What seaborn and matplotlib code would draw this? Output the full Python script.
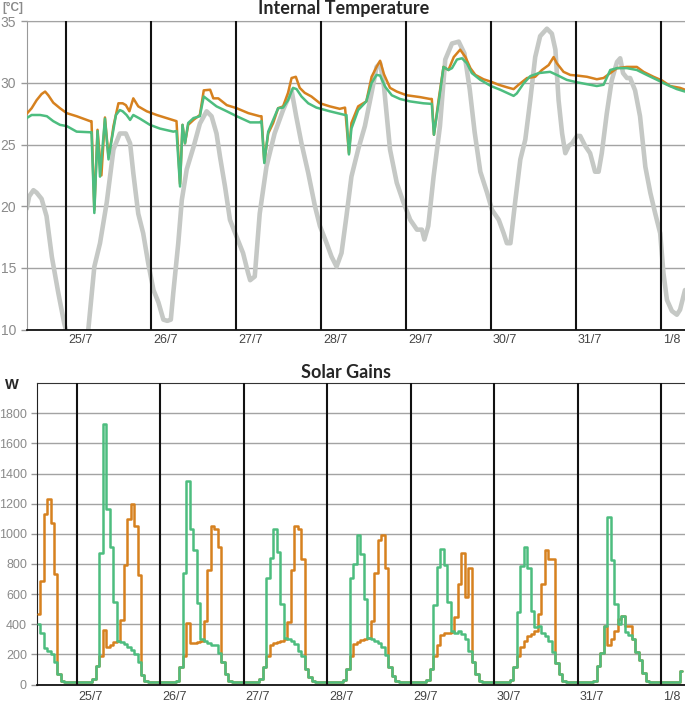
import numpy as np
import seaborn as sns
import matplotlib.pyplot as plt
from matplotlib.transforms import ScaledTranslation

# time axis in hours, counted from 25/7 00:00
day_hours = [0, 24, 48, 72, 96, 120, 144, 168]
day_labels = ['25/7', '26/7', '27/7', '28/7', '29/7', '30/7', '31/7', '1/8']

# external air temperature (grey)
ext_hours = [-11.1, -10.4, -9.2, -8.3, -6.9, -5.5, -4.0, -2.2, -0.5, 1.5, 4.0, 5.5, 6.3, 8.0, 9.6,
             11.5, 13.4, 15.2, 16.9, 18.1, 19.0, 20.4, 21.8, 23.2, 24.7, 26.1, 27.5, 28.6, 29.6, 30.3,
             31.7, 32.7, 34.1, 36.0, 37.8, 39.7, 41.1, 42.5, 43.5, 44.9, 46.3, 48.2, 50.0, 51.4, 52.0,
             53.3, 54.7, 56.6, 58.9, 61.3, 63.7, 65.0, 66.5, 68.4, 70.3, 71.7, 73.6, 75.0, 76.4, 77.8,
             79.2, 80.6, 82.5, 84.4, 86.3, 87.7, 88.7, 89.8, 91.5, 93.4, 95.3, 97.2, 99.1, 100.5, 101.2,
             102.3, 103.8, 105.6, 107.1, 109.0, 110.9, 112.5, 114.0, 115.4, 117.0, 118.9, 120.3, 122.2,
             123.6, 124.5, 125.5, 126.9, 128.3, 129.7, 131.1, 132.5, 133.9, 135.8, 137.2, 138.2, 139.1,
             140.1, 141.0, 142.0, 142.9, 144.3, 145.2, 146.6, 148.0, 149.4, 150.4, 151.3, 152.7, 154.1,
             155.6, 156.5, 157.3, 158.4, 159.3, 160.7, 162.1, 163.6, 165.0, 166.4, 167.8, 168.7, 169.7,
             171.1, 172.5, 173.4, 174.8]
ext_temp = [19.8, 20.8, 21.3, 21.1, 20.6, 19.2, 15.9, 13.0, 10.5, 8.3, 7.8, 8.5, 10.0, 15.1, 17.0,
            20.3, 24.6, 25.9, 25.9, 25.1, 22.7, 19.4, 17.8, 15.4, 13.2, 12.2, 10.8, 10.7, 10.8, 13.0,
            17.0, 20.5, 23.0, 24.8, 26.7, 27.7, 27.3, 25.9, 24.0, 21.6, 18.9, 17.5, 16.2, 14.6, 14.0,
            14.3, 19.4, 23.2, 25.9, 27.8, 29.4, 27.3, 25.1, 22.7, 20.0, 18.4, 17.0, 15.9, 15.1, 16.2,
            19.2, 22.4, 24.6, 26.5, 29.2, 31.3, 31.6, 29.7, 24.6, 21.9, 20.3, 18.9, 18.1, 18.1, 17.3,
            18.4, 22.4, 26.5, 31.9, 33.2, 33.35, 32.4, 29.5, 26.0, 22.8, 21.1, 19.7, 18.9,
            17.8, 17.0, 17.0, 20.5, 23.8, 25.4, 28.6, 32.1, 33.8, 34.4, 34.0, 32.7, 28.6,
            25.9, 24.3, 24.9, 25.1, 25.7, 25.7, 24.9, 24.3, 22.8, 22.8, 24.3, 27.5, 30.2,
            31.7, 32.0, 30.8, 30.4, 30.4, 29.4, 27.3, 23.2, 21.1, 19.4, 17.8, 14.6, 12.4,
            11.5, 11.2, 11.6, 13.2]

# internal temperature, orange case
orange_hours = [-11.1, -9.7, -8.3, -6.9, -5.9, -5.0, -3.6, -1.7, 0.2, 3.0, 6.8, 7.2, 8.0, 8.9, 10.0,
                11.0, 12.0, 12.9, 13.4, 14.8, 16.0, 16.9, 17.9, 19.0, 20.4, 22.8, 25.6, 28.4, 31.2,
                32.2, 32.9, 33.6, 34.5, 36.0, 37.8, 38.9, 40.7, 41.6, 43.0, 45.4, 48.2, 51.5, 54.7,
                55.2, 56.0, 57.1, 58.5, 59.9, 61.3, 62.7, 63.7, 64.9, 66.0, 67.4, 69.3, 71.7, 74.5,
                77.3, 78.8, 79.9, 80.6, 82.5, 84.8, 86.3, 87.7, 88.7, 89.8, 91.5, 93.4, 96.2, 100.0,
                102.8, 103.3, 103.9, 105.2, 106.6, 108.0, 109.5, 111.3, 112.8, 114.2, 115.6, 117.9,
                120.0, 122.2, 124.5, 126.4, 127.8, 130.2, 132.5, 134.4, 136.3, 137.7, 138.6, 140.5,
                142.4, 144.3, 147.1, 149.9, 151.8, 153.7, 155.6, 158.4, 161.2, 163.1, 165.9, 168.3,
                170.6, 173.4, 174.8]
orange_temp = [27.5, 27.95, 28.6, 29.1, 29.3, 29.0, 28.4, 27.95, 27.55, 27.3, 26.9, 26.9, 19.7, 26.2, 22.5,
               27.2, 24.0, 25.5, 26.5, 28.35, 28.35, 28.2, 27.7, 28.75, 28.1, 27.7, 27.4, 27.15, 26.9,
               21.8, 26.6, 25.1, 26.6, 27.0, 27.4, 29.4, 29.45, 28.75, 28.75, 28.2, 27.95, 27.55, 27.3,
               27.3, 23.6, 25.9, 26.75, 27.95, 28.1, 29.2, 30.4, 30.5, 29.6, 29.2, 28.9, 28.35, 28.1,
               27.9, 28.0, 24.3, 26.75, 28.1, 28.5, 30.5, 31.3, 31.8, 30.7, 29.6, 29.3, 29.0, 28.85,
               28.7, 28.7, 25.8, 28.6, 31.3, 31.05, 32.1, 32.7, 32.1, 31.2, 30.65, 30.3,
               30.1, 29.85, 29.65, 29.5, 29.85, 30.4, 30.5, 31.05, 31.45, 32.1, 31.6, 30.9,
               30.65, 30.6, 30.5, 30.3, 30.4, 30.8, 31.2, 31.3, 31.3, 30.9, 30.5, 30.2,
               29.75, 29.6, 29.45]

# internal temperature, green case
green_hours = [-11.1, -9.7, -7.3, -5.4, -3.6, -1.7, 0.2, 3.0, 6.8, 7.2, 8.0, 8.9, 9.6, 11.0, 12.0,
               12.9, 14.1, 15.2, 16.0, 17.1, 18.1, 19.0, 20.9, 23.7, 26.5, 30.3, 31.2, 32.2, 32.9,
               33.6, 34.5, 36.0, 37.8, 38.9, 40.7, 42.5, 45.4, 48.2, 52.0, 54.7, 55.2, 56.0, 57.1,
               58.5, 59.9, 61.3, 62.7, 64.1, 65.1, 66.5, 68.4, 70.7, 74.5, 78.8, 79.2, 79.9, 80.6,
               82.5, 84.8, 86.3, 87.7, 88.7, 90.1, 92.0, 94.3, 97.2, 100.9, 103.3, 103.9, 105.2,
               106.6, 108.0, 109.0, 110.4, 111.8, 113.2, 114.6, 117.0, 120.0, 122.6, 124.5, 126.4,
               127.3, 129.2, 131.1, 133.5, 136.7, 138.6, 141.4, 144.3, 147.1, 149.9, 151.8, 153.7,
               155.6, 158.4, 161.2, 164.0, 166.9, 169.7, 172.5, 174.8]
green_temp = [27.15, 27.4, 27.4, 27.3, 26.9, 26.6, 26.5, 26.05, 26.0, 26.0, 19.45, 26.1, 22.4, 27.1, 23.8,
              25.4, 27.4, 27.8, 27.7, 27.4, 27.0, 27.4, 27.1, 26.6, 26.3, 26.05, 26.1, 21.6, 26.6,
              25.1, 26.75, 27.15, 27.3, 28.9, 28.5, 28.1, 27.7, 27.3, 26.8, 26.8, 26.9, 23.5, 26.05,
              27.0, 27.95, 28.0, 28.6, 29.6, 29.5, 28.9, 28.35, 28.0, 27.7, 27.4, 27.4, 24.2, 26.3,
              27.8, 28.5, 30.0, 30.65, 30.6, 29.7, 29.0, 28.7, 28.5, 28.35, 28.3, 25.8, 28.35,
              31.3, 31.05, 31.2, 31.9, 32.0, 31.6, 30.8, 30.25, 29.75, 29.45, 29.2, 28.95,
              29.15, 29.95, 30.55, 30.8, 30.9, 30.65, 30.25, 30.05, 29.9, 29.75, 29.85, 31.05,
              31.2, 31.2, 31.05, 30.65, 30.25, 29.85, 29.5, 29.3]

# solar gains [W], hourly values centred on the hour, from 24/7 13h to 1/8 6h
solar_first_hour = -11
gain_green = ([400, 340, 245, 225, 200, 150, 70, 25, 15, 15, 15] +
              [15, 15, 15, 15, 15, 35, 120, 875, 1730, 1165, 915, 545, 290, 285, 270, 250, 230, 205, 150, 65, 25, 15, 15, 15] +
              [15, 15, 15, 15, 15, 25, 115, 740, 1350, 1030, 890, 540, 300, 290, 275, 265, 260, 210, 150, 70, 25, 15, 15, 15] +
              [15, 15, 15, 15, 15, 35, 115, 710, 840, 1030, 880, 535, 310, 300, 290, 270, 225, 190, 105, 50, 20, 15, 15, 15] +
              [15, 15, 15, 15, 15, 30, 105, 710, 800, 995, 865, 565, 310, 300, 290, 275, 250, 195, 115, 55, 20, 15, 15, 15] +
              [15, 15, 15, 15, 15, 30, 105, 525, 780, 900, 790, 545, 355, 345, 355, 335, 305, 225, 150, 70, 25, 15, 15, 15] +
              [15, 15, 15, 15, 15, 30, 115, 480, 785, 910, 775, 490, 380, 390, 345, 320, 290, 215, 145, 70, 20, 15, 15, 15] +
              [15, 15, 15, 15, 15, 25, 120, 210, 390, 1110, 825, 535, 400, 455, 350, 330, 300, 215, 160, 75, 20, 15, 15, 15] +
              [15, 15, 15, 15, 15, 15, 90])
gain_orange = ([470, 690, 1130, 1230, 1070, 735, 70, 25, 15, 15, 15] +
               [15, 15, 15, 15, 15, 35, 120, 190, 360, 250, 265, 280, 290, 430, 790, 1100, 1200, 1050, 730, 65, 25, 15, 15, 15] +
               [15, 15, 15, 15, 15, 25, 115, 190, 405, 275, 275, 285, 290, 420, 760, 1050, 1030, 915, 150, 70, 25, 15, 15, 15] +
               [15, 15, 15, 15, 15, 35, 115, 190, 265, 275, 285, 290, 300, 415, 760, 1055, 1030, 830, 105, 50, 20, 15, 15, 15] +
               [15, 15, 15, 15, 15, 30, 105, 190, 270, 285, 295, 300, 310, 420, 740, 960, 995, 775, 115, 55, 20, 15, 15, 15] +
               [15, 15, 15, 15, 15, 30, 105, 190, 260, 330, 340, 345, 350, 445, 665, 870, 580, 775, 150, 70, 25, 15, 15, 15] +
               [15, 15, 15, 15, 15, 30, 115, 190, 250, 290, 320, 335, 355, 465, 665, 895, 830, 830, 145, 70, 20, 15, 15, 15] +
               [15, 15, 15, 15, 15, 25, 120, 210, 390, 260, 300, 355, 435, 455, 390, 390, 300, 215, 160, 75, 20, 15, 15, 15] +
               [15, 15, 15, 15, 15, 15, 90])
solar_hours = solar_first_hour + np.arange(len(gain_green))

ORANGE = '#d6811f'
GREEN = '#4dbd7f'
GREY = '#c5c8c5'

sns.set_style('white')
plt.rcParams['font.family'] = ['Liberation Sans', 'DejaVu Sans']

fig = plt.figure(figsize=(6.85, 7.03), dpi=100)
W, H = 685, 703
ax1 = fig.add_axes([26.7 / W, (H - 329.5) / H, (W - 26.7) / W, (329.5 - 21.3) / H])
ax2 = fig.add_axes([37.3 / W, (H - 684.5) / H, (W - 37.3) / W, (684.5 - 383.2) / H])

# top panel: temperatures
sns.lineplot(x=ext_hours, y=ext_temp, ax=ax1, color=GREY, lw=3.3, sort=False, estimator=None, zorder=2)
sns.lineplot(x=orange_hours, y=orange_temp, ax=ax1, color=ORANGE, lw=1.8, sort=False, estimator=None, zorder=3)
sns.lineplot(x=green_hours, y=green_temp, ax=ax1, color=GREEN, lw=1.8, sort=False, estimator=None, zorder=4)
ax1.set_ylim(10, 35)
ax1.set_xlim(-11.1, 174.8)
ax1.set_yticks([10, 15, 20, 25, 30, 35])

# bottom panel: solar gains, hourly steps
sns.lineplot(x=solar_hours, y=gain_orange, ax=ax2, color=ORANGE, lw=1.8, sort=False, estimator=None,
             drawstyle='steps-mid', zorder=3)
sns.lineplot(x=solar_hours, y=gain_green, ax=ax2, color=GREEN, lw=1.8, sort=False, estimator=None,
             drawstyle='steps-mid', zorder=4)
ax2.set_ylim(0, 2000)
ax2.set_xlim(-11.3, 174.8)
ax2.set_yticks(range(0, 2000, 200))

for ax, tick_len, pad, ysize in [(ax1, 10, -7, 10), (ax2, 13, -8, 9)]:
    ax.set_xlabel('')
    ax.set_ylabel('')
    ax.yaxis.grid(True, color='#a3a3a3', lw=1)
    ax.xaxis.grid(False)
    for h in day_hours:
        ax.axvline(h, color='#111111', lw=1.5, zorder=5)
    ax.set_xticks(day_hours, day_labels)
    ax.tick_params(axis='x', length=tick_len, width=1.5, color='#111111', pad=pad,
                   labelsize=9, labelcolor='#444444', direction='out')
    ax.tick_params(axis='y', length=4.5, width=1, color='#999999', pad=3,
                   labelsize=ysize, labelcolor='#8a8a8a', left=True)
    for lab in ax.get_xticklabels():
        lab.set_ha('left')
        lab.set_transform(lab.get_transform() + ScaledTranslation(1.5 / 72, 0, fig.dpi_scale_trans))
    ax.spines['right'].set_visible(False)
    ax.spines['bottom'].set_color('#111111')
    ax.spines['bottom'].set_linewidth(1.3)

ax1.spines['left'].set_color('#999999')
ax1.spines['top'].set_color('#a3a3a3')
ax2.spines['left'].set_color('#222222')
ax2.spines['top'].set_color('#333333')

fig.text(344 / W, 1 - 14 / H, 'Internal Temperature', ha='center', va='baseline',
         fontsize=13, fontweight='bold', family='Lato')
fig.text(346 / W, 1 - 378 / H, 'Solar Gains', ha='center', va='baseline',
         fontsize=13, fontweight='bold', family='Lato')
fig.text(2 / W, 1 - 11 / H, '[°C]', ha='left', va='baseline', fontsize=8.5,
         fontweight='bold', color='#8a8a8a')
fig.text(12 / W, 1 - 389 / H, 'W', ha='center', va='baseline', fontsize=10.5, fontweight='bold')

fig.savefig('out.png', dpi=100)
